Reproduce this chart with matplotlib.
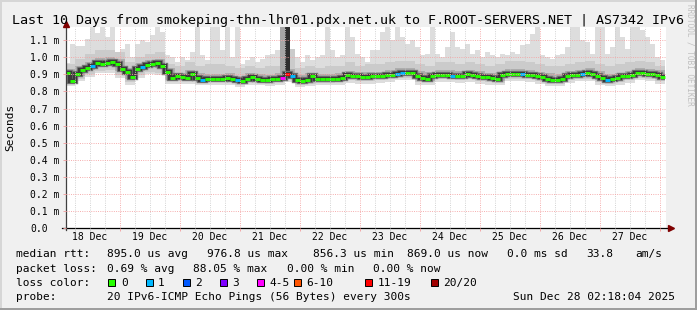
import numpy as np
import matplotlib
matplotlib.use("Agg")
import matplotlib.pyplot as plt
from matplotlib.patches import Rectangle

plt.rcParams["font.family"] = "DejaVu Sans Mono"

# ---- data (ms) ----
# median rtt, one value per 2 h step, first step starts Dec 18 02:00
median_ms = [
    0.910, 0.861, 0.904, 0.927, 0.939, 0.947, 0.968, 0.962, 0.966, 0.974,
    0.962, 0.933, 0.914, 0.884, 0.933, 0.943, 0.953, 0.958, 0.966, 0.947,
    0.914, 0.879, 0.888, 0.884, 0.880, 0.904, 0.879, 0.869, 0.875, 0.875,
    0.875, 0.875, 0.879, 0.875, 0.865, 0.859, 0.875, 0.884, 0.875, 0.869,
    0.865, 0.871, 0.871, 0.879, 0.904, 0.892, 0.869, 0.859, 0.865, 0.888,
    0.875, 0.871, 0.873, 0.875, 0.875, 0.879, 0.894, 0.888, 0.888, 0.884,
    0.884, 0.890, 0.890, 0.888, 0.894, 0.898, 0.904, 0.908, 0.908, 0.910,
    0.890, 0.880, 0.875, 0.892, 0.898, 0.894, 0.898, 0.892, 0.892, 0.892,
    0.900, 0.896, 0.892, 0.884, 0.882, 0.879, 0.871, 0.894, 0.904, 0.904,
    0.902, 0.904, 0.898, 0.894, 0.890, 0.884, 0.875, 0.869, 0.869, 0.875,
    0.888, 0.894, 0.898, 0.900, 0.910, 0.900, 0.890, 0.879, 0.869, 0.871,
    0.879, 0.888, 0.890, 0.894, 0.910, 0.908, 0.902, 0.900, 0.898, 0.884,
]
# slowest ping of each 2 h step (top of the light smoke)
smoke_max = [
    0.966, 1.076, 1.064, 1.064, 1.109, 1.200, 1.142, 1.200, 1.118, 1.200,
    1.001, 1.050, 1.079, 1.001, 1.079, 1.103, 1.089, 1.128, 1.200, 1.148,
    1.011, 1.001, 0.972, 1.001, 0.982, 1.031, 1.200, 1.011, 0.982, 1.200,
    1.200, 1.040, 1.200, 1.001, 1.200, 0.962, 0.982, 1.001, 0.972, 0.992,
    1.011, 1.021, 1.040, 1.200, 1.200, 0.982, 1.001, 0.972, 1.011, 0.982,
    1.001, 1.011, 1.200, 1.040, 1.001, 1.011, 1.200, 1.118, 1.021, 1.001,
    0.972, 1.040, 1.040, 1.148, 1.200, 1.099, 1.200, 1.118, 1.079, 1.099,
    1.060, 1.011, 1.021, 1.200, 1.021, 1.001, 1.060, 1.148, 1.060, 1.050,
    1.079, 1.021, 1.040, 1.001, 1.031, 1.011, 1.001, 1.021, 1.011, 1.031,
    1.021, 1.070, 1.079, 1.138, 1.200, 1.011, 1.001, 0.992, 1.011, 1.021,
    1.060, 1.200, 1.200, 1.099, 1.089, 1.021, 1.200, 1.200, 1.021, 1.060,
    1.200, 1.118, 1.050, 1.200, 1.200, 1.158, 1.118, 1.079, 1.001, 0.982,
]
# inner smoke layers, one value per 4 h step
smoke_hi2 = [
    0.96, 0.99, 1.02, 1.04, 1.04, 1.03, 0.97, 1.00, 1.02, 1.03,
    0.96, 0.95, 0.97, 0.95, 0.96, 0.96, 0.95, 0.94, 0.95, 0.94,
    0.95, 0.95, 1.05, 0.94, 0.95, 0.94, 0.95, 0.95, 0.97, 0.95,
    0.96, 0.96, 0.97, 0.98, 0.98, 0.96, 0.95, 0.97, 0.97, 0.96,
    0.97, 0.96, 0.95, 0.96, 0.98, 0.98, 0.97, 0.96, 0.95, 0.95,
    0.96, 0.97, 0.98, 0.96, 0.95, 0.96, 0.97, 0.98, 0.97, 0.95,
]
smoke_hi3 = [
    0.930, 0.950, 0.970, 0.995, 1.000, 0.990, 0.940, 0.965, 0.985, 0.990,
    0.935, 0.910, 0.925, 0.905, 0.900, 0.900, 0.905, 0.890, 0.910, 0.900,
    0.895, 0.905, 0.930, 0.895, 0.910, 0.900, 0.900, 0.905, 0.920, 0.915,
    0.915, 0.915, 0.925, 0.935, 0.940, 0.920, 0.915, 0.925, 0.925, 0.920,
    0.925, 0.920, 0.910, 0.915, 0.930, 0.930, 0.925, 0.915, 0.905, 0.900,
    0.920, 0.925, 0.935, 0.920, 0.900, 0.910, 0.920, 0.935, 0.930, 0.925,
]
smoke_lo3 = [
    0.849, 0.892, 0.927, 0.950, 0.954, 0.921, 0.872, 0.921, 0.941, 0.935,
    0.867, 0.872, 0.868, 0.857, 0.863, 0.863, 0.863, 0.847, 0.863, 0.857,
    0.853, 0.859, 0.880, 0.847, 0.853, 0.859, 0.861, 0.863, 0.876, 0.872,
    0.872, 0.876, 0.882, 0.892, 0.896, 0.868, 0.863, 0.882, 0.880, 0.880,
    0.884, 0.872, 0.867, 0.859, 0.890, 0.890, 0.882, 0.872, 0.857, 0.857,
    0.876, 0.886, 0.888, 0.867, 0.857, 0.867, 0.878, 0.896, 0.888, 0.872,
]
smoke_lo2 = [
    0.845, 0.875, 0.900, 0.920, 0.925, 0.895, 0.855, 0.895, 0.915, 0.910,
    0.860, 0.860, 0.860, 0.850, 0.855, 0.855, 0.855, 0.840, 0.855, 0.850,
    0.845, 0.855, 0.870, 0.840, 0.845, 0.850, 0.850, 0.855, 0.865, 0.860,
    0.860, 0.865, 0.870, 0.880, 0.880, 0.855, 0.855, 0.870, 0.870, 0.865,
    0.870, 0.860, 0.855, 0.850, 0.875, 0.875, 0.870, 0.860, 0.845, 0.845,
    0.865, 0.875, 0.875, 0.855, 0.845, 0.855, 0.865, 0.880, 0.875, 0.860,
]
smoke_min = [
    0.830, 0.860, 0.885, 0.905, 0.910, 0.880, 0.840, 0.880, 0.900, 0.895,
    0.845, 0.845, 0.845, 0.835, 0.840, 0.840, 0.840, 0.825, 0.840, 0.835,
    0.830, 0.840, 0.855, 0.825, 0.830, 0.835, 0.835, 0.840, 0.850, 0.845,
    0.845, 0.850, 0.855, 0.865, 0.865, 0.840, 0.840, 0.855, 0.855, 0.850,
    0.855, 0.845, 0.840, 0.835, 0.860, 0.860, 0.855, 0.845, 0.830, 0.830,
    0.850, 0.860, 0.860, 0.840, 0.830, 0.840, 0.850, 0.865, 0.860, 0.845,
]

# steps with packet loss (index into median_ms) and their loss class
loss_idx = [5, 15, 27, 34, 43, 44, 45, 66, 67, 77, 91, 103, 108]
loss_bin = [1, 1, 1, 1, 4, 6, 1, 1, 1, 1, 1, 1, 1]
loss_labels = ["0", "1", "2", "3", "4-5", "6-10", "11-19", "20/20"]
loss_colors = ["#26ff00", "#00b8ff", "#0059ff", "#7e00ff",
               "#ff00ff", "#ff5500", "#ff0000", "#a10000"]
# the loss burst on Dec 21 shows as two tall columns
burst_idx = [43, 44]
burst_colors = ["#a6a6a6", "#2e2e2e"]

day_labels = ["18 Dec", "19 Dec", "20 Dec", "21 Dec", "22 Dec",
              "23 Dec", "24 Dec", "25 Dec", "26 Dec", "27 Dec"]
ytick_vals = [0.0, 0.1, 0.2, 0.3, 0.4, 0.5, 0.6, 0.7, 0.8, 0.9, 1.0, 1.1]
ytick_labels = ["0.0"] + ["%.1f m" % v for v in ytick_vals[1:]]

# ---- figure ----
W, H = 697, 310
BG = "#f0f0f0"
fig = plt.figure(figsize=(W / 100, H / 100), dpi=100, facecolor=BG)

def fx(px):
    return px / W

def fy(py):
    return 1 - py / H

ax = fig.add_axes([fx(65.75), fy(228.3), 600 / W, 201 / H])
ax.set_facecolor("white")

fine_edges = 2 + 2 * np.arange(len(median_ms) + 1)
coarse_edges = 2 + 4 * np.arange(len(smoke_hi2) + 1)

# smoke, light to dark
ax.stairs(smoke_hi2, coarse_edges, baseline=smoke_min, fill=True,
          facecolor="#dddddd", edgecolor="none", lw=0)
ax.stairs(smoke_max, fine_edges, baseline=median_ms, fill=True,
          facecolor="#dddddd", edgecolor="none", lw=0)
ax.stairs(smoke_hi2, coarse_edges, baseline=smoke_lo2, fill=True,
          facecolor="#cbcbcb", edgecolor="none", lw=0)
ax.stairs(smoke_hi3, coarse_edges, baseline=smoke_lo3, fill=True,
          facecolor="#adadad", edgecolor="none", lw=0)
for i, c in zip(burst_idx, burst_colors):
    ax.stairs([smoke_max[i]], fine_edges[i:i + 2], baseline=median_ms[i],
              fill=True, facecolor=c, edgecolor="none", lw=0)
ax.stairs(median_ms, fine_edges, baseline=None, color="#7a7a7a", lw=4.6)
ax.stairs(median_ms, fine_edges, baseline=None, color="#3a3a3a", lw=3.2)

# median line coloured by loss
step_colors = [loss_colors[0]] * len(median_ms)
for i, b in zip(loss_idx, loss_bin):
    step_colors[i] = loss_colors[b]
ax.hlines(median_ms, fine_edges[:-1], fine_edges[1:], colors=step_colors, lw=2.1)

ax.set_xlim(2.3, 242.3)
ax.set_ylim(0, 1.175)

# grid
ax.set_xticks(np.arange(24, 241, 24))
ax.set_xticks(np.arange(6, 242, 6), minor=True)
ax.set_xticklabels([])
ax.set_yticks(ytick_vals)
ax.set_yticklabels(ytick_labels)
ax.set_axisbelow(False)
ax.grid(which="major", color="#f4a2a2", ls=(0, (1, 1.5)), lw=0.65)
ax.grid(which="minor", axis="x", color="#cccccc", ls=(0, (1, 1.5)), lw=0.65)
for s in ax.spines.values():
    s.set_visible(False)
ax.tick_params(axis="x", which="major", length=2.5, width=0.65, color="#f4a2a2")
ax.tick_params(axis="x", which="minor", length=2, width=0.65, color="#cccccc")
ax.tick_params(axis="y", length=2.2, width=0.65, color="#f0a0a0",
               labelsize=7, pad=23.5)
for lab in ax.get_yticklabels():
    lab.set_horizontalalignment("left")

# day labels at noon
sec = ax.secondary_xaxis("bottom")
sec.set_xticks(12 + 24 * np.arange(len(day_labels)), day_labels)
sec.tick_params(length=0, labelsize=7, pad=3)
sec.spines["bottom"].set_visible(False)

# axes with arrows
ax.plot([-0.006, 1.006], [0, 0], transform=ax.transAxes, color="black",
        lw=0.9, clip_on=False)
ax.plot([0, 0], [-0.01, 1.01], transform=ax.transAxes, color="#404040",
        lw=0.9, clip_on=False)
ax.plot(1.008, 0, marker=">", ms=4, color="#7f0000", transform=ax.transAxes,
        clip_on=False)
ax.plot(0, 1.017, marker="^", ms=4, color="#7f0000", transform=ax.transAxes,
        clip_on=False)

# texts
fig.text(0.5, fy(24), "Last 10 Days from smokeping-thn-lhr01.pdx.net.uk to "
         "F.ROOT-SERVERS.NET | AS7342 IPv6", ha="center", va="baseline",
         fontsize=9.6)
fig.text(fx(10), fy(127.8), "Seconds", rotation=90, ha="center", va="center",
         fontsize=8)
fig.text(fx(690), fy(4), "RRDTOOL / TOBI OETIKER", rotation=270, ha="center",
         va="top", fontsize=5.6, color="#c0c0c0")

legend_rows = [
    (257, [("median rtt:", 16), ("895.0 us avg", 107.3), ("976.8 us max", 207.3),
           ("856.3 us min", 313.3), ("869.0 us now", 407.3), ("0.0 ms sd", 507.3),
           ("33.8", 586), ("am/s", 635.3)]),
    (271.5, [("packet loss:", 16), ("0.69 % avg", 107.3), ("88.05 % max", 193.3),
             ("0.00 % min", 286.7), ("0.00 % now", 372.7)]),
    (285.7, [("loss color:", 16)]),
    (300, [("probe:", 16), ("20 IPv6-ICMP Echo Pings (56 Bytes) every 300s", 107.3),
           ("Sun Dec 28 02:18:04 2025", 513.3)]),
]
for yb, items in legend_rows:
    for txt, x in items:
        fig.text(fx(x), fy(yb), txt, ha="left", va="baseline", fontsize=8)

box_x = [108.3, 145.7, 182.7, 220, 257.3, 294, 365.3, 430.7]
for x, c, lab in zip(box_x, loss_colors, loss_labels):
    fig.add_artist(Rectangle((fx(x), fy(286)), 7 / W, 7 / H,
                             transform=fig.transFigure, facecolor=c,
                             edgecolor="black", lw=0.7))
    fig.text(fx(x + 12.5), fy(285.7), lab, ha="left", va="baseline", fontsize=8)

# rrdtool style shaded frame
fig.add_artist(Rectangle((0, fy(2)), 1, 2 / H, transform=fig.transFigure,
                         facecolor="#d6d6d6", edgecolor="none"))
fig.add_artist(Rectangle((0, 0), 2 / W, 1, transform=fig.transFigure,
                         facecolor="#d6d6d6", edgecolor="none"))
fig.add_artist(Rectangle((0, 0), 1, 2 / H, transform=fig.transFigure,
                         facecolor="#9e9e9e", edgecolor="none"))
fig.add_artist(Rectangle((fx(W - 2), 0), 2 / W, 1, transform=fig.transFigure,
                         facecolor="#9e9e9e", edgecolor="none"))

fig.savefig("out.png", dpi=100, facecolor=BG)
